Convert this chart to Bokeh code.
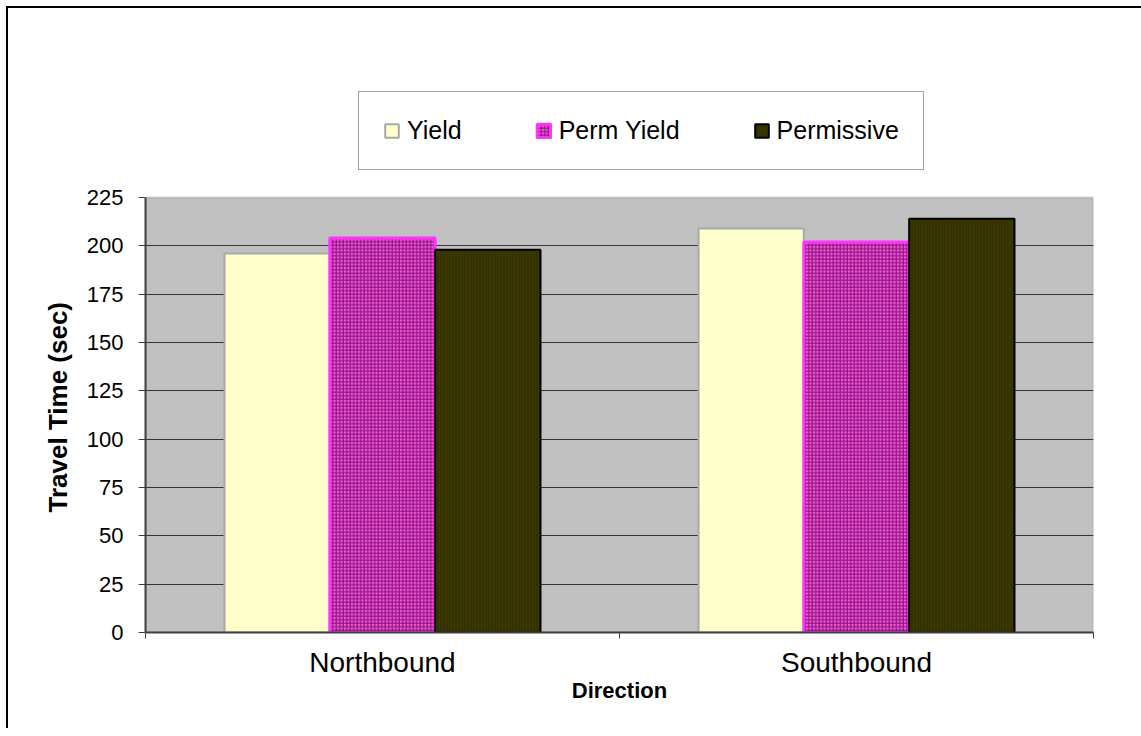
from bokeh.plotting import figure
from bokeh.models import Range1d, FixedTicker, ColumnDataSource, Legend, LegendItem, BoxAnnotation, Title
from bokeh.transform import dodge
from bokeh.embed import file_html
from bokeh.resources import INLINE

categories = ["Northbound", "Southbound"]
series = ["Yield", "Perm Yield", "Permissive"]
yield_vals = [196, 209]
perm_yield_vals = [204, 202]
permissive_vals = [198, 214]
y_ticks = [0, 25, 50, 75, 100, 125, 150, 175, 200, 225]

FONT = "Liberation Sans"
Y_MAX = y_ticks[-1]
FRAME_H = 542          # frame extends above the gray plot area to host the legend
PLOT_H = 435           # height of the gray plot area
cat_pos = [i + 0.5 for i in range(len(categories))]
source = ColumnDataSource(dict(x=cat_pos, yld=yield_vals, perm=perm_yield_vals, permissive=permissive_vals))

p = figure(frame_width=948, frame_height=FRAME_H,
           x_range=Range1d(0, len(categories)), y_range=Range1d(0, Y_MAX * FRAME_H / PLOT_H),
           output_backend="svg", toolbar_location=None,
           min_border_left=137, min_border_top=82, min_border_right=48, min_border_bottom=96)
p.styles = {"border-left": "2px solid black", "border-top": "2px solid black",
            "margin-left": "6px", "margin-top": "6px"}
p.background_fill_color = "white"
p.border_fill_color = "white"
p.outline_line_color = None

plot_area = BoxAnnotation(bottom=0, top=Y_MAX, fill_color="#C0C0C0", fill_alpha=1,
                          line_color="#808080", line_width=2, level="image")
p.add_layout(plot_area)

bw = 0.2222
r1 = p.vbar(x=dodge("x", -bw, range=p.x_range), top="yld", width=bw, source=source,
            fill_color="#FFFFCC", line_color="#A8A8A8", line_width=2)
r2 = p.vbar(x=dodge("x", 0, range=p.x_range), top="perm", width=bw, source=source,
            fill_color="#F55CC8", line_color="#FF33FF", line_width=3,
            hatch_pattern="+", hatch_color="#8B108B", hatch_scale=3.5, hatch_weight=1.2)
r3 = p.vbar(x=dodge("x", bw, range=p.x_range), top="permissive", width=bw, source=source,
            fill_color="#333300", line_color="black", line_width=2,
            hatch_pattern="|", hatch_color="#4D3B00", hatch_scale=3, hatch_weight=1, hatch_alpha=0.6)

# axes
p.xaxis.ticker = FixedTicker(ticks=cat_pos, minor_ticks=[float(i) for i in range(len(categories) + 1)])
p.xaxis.major_label_overrides = {x: c for x, c in zip(cat_pos, categories)}
p.xaxis.major_tick_out = 0
p.xaxis.major_tick_in = 0
p.xaxis.minor_tick_out = 6
p.xaxis.minor_tick_in = 0
p.xaxis.minor_tick_line_color = "#404040"
p.xaxis.axis_line_color = "#404040"
p.xaxis.axis_line_width = 2
p.xaxis.major_label_text_font = FONT
p.xaxis.major_label_text_font_size = "28px"
p.xaxis.major_label_text_color = "black"
p.xaxis.major_label_standoff = 8
p.xaxis.axis_label = "Direction"
p.xaxis.axis_label_text_font = FONT
p.xaxis.axis_label_text_font_style = "bold"
p.xaxis.axis_label_text_font_size = "22px"
p.xaxis.axis_label_text_color = "black"
p.xaxis.axis_label_standoff = -3

p.yaxis.ticker = FixedTicker(ticks=y_ticks, minor_ticks=[])
p.yaxis.bounds = (0, Y_MAX)
p.yaxis.major_tick_out = 7
p.yaxis.major_tick_in = 0
p.yaxis.major_tick_line_color = "#404040"
p.yaxis.axis_line_color = "#404040"
p.yaxis.axis_line_width = 2
p.yaxis.major_label_text_font = FONT
p.yaxis.major_label_text_font_size = "22px"
p.yaxis.major_label_text_color = "black"
p.yaxis.major_label_standoff = 15

ytitle = Title(text="Travel Time (sec)", align="left", offset=120, standoff=21,
               text_font=FONT, text_font_style="bold", text_font_size="26px", text_color="black")
p.add_layout(ytitle, "left")

p.xgrid.visible = False
p.ygrid.ticker = FixedTicker(ticks=y_ticks[:-1])
p.ygrid.grid_line_color = "#333333"
p.ygrid.grid_line_width = 1

legend = Legend(items=[LegendItem(label=s, renderers=[r]) for s, r in zip(series, [r1, r2, r3])],
                orientation="horizontal", location=(213, 462))
legend.label_text_font = FONT
legend.label_text_font_size = "25px"
legend.label_text_color = "black"
legend.glyph_width = 17
legend.glyph_height = 17
legend.label_standoff = 7
legend.spacing = 73
legend.padding = 24
legend.margin = 0
legend.border_line_color = "#404040"
legend.border_line_width = 1
legend.background_fill_color = "white"
legend.background_fill_alpha = 1
p.add_layout(legend)

open("out.html", "w").write(file_html(p, INLINE))
